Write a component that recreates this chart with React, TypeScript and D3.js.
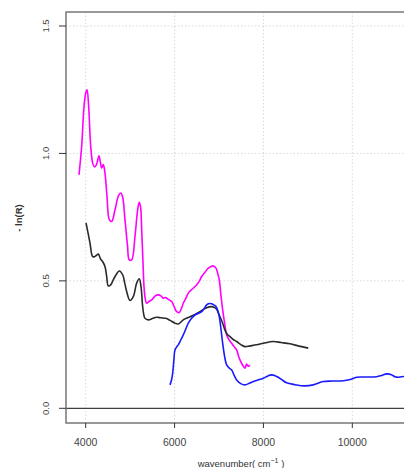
import React from "react";
import * as d3 from "d3";

const xTicks = [4000, 6000, 8000, 10000];
const yTicks = [0.0, 0.5, 1.0, 1.5];
const yTickLabels = ["0.0", "0.5", "1.0", "1.5"];

const magentaWn = [3849,3910,3960,4000,4030,4065,4112,4160,4200,4240,4299,4330,4360,4396,4434,4480,4531,4585,4660,4740,4790,4830,4884,4940,4981,5035,5109,5170,5205,5235,5260,5290,5312,5340,5372,5430,5485,5560,5634,5700,5746,5800,5850,5935,6000,6047,6106,6150,6196,6250,6309,6400,6497,6560,6610,6690,6759,6810,6857,6900,6932,6970,7006,7040,7083,7130,7172,7230,7285,7340,7397,7440,7472,7530,7584,7622,7660,7697];
const magentaVal = [0.916,1.03,1.18,1.237,1.25,1.19,1.03,0.96,0.947,0.955,0.991,0.965,0.943,0.956,0.923,0.83,0.74,0.733,0.779,0.835,0.845,0.83,0.74,0.64,0.582,0.582,0.674,0.78,0.808,0.79,0.70,0.57,0.478,0.43,0.412,0.42,0.425,0.44,0.445,0.44,0.432,0.435,0.428,0.419,0.395,0.379,0.376,0.39,0.412,0.43,0.452,0.468,0.484,0.5,0.517,0.535,0.55,0.555,0.559,0.556,0.55,0.53,0.504,0.45,0.386,0.33,0.288,0.268,0.255,0.242,0.229,0.205,0.19,0.17,0.157,0.174,0.165,0.17];

const blackWn = [4007,4050,4097,4157,4200,4240,4284,4338,4380,4434,4470,4509,4562,4610,4660,4756,4832,4880,4922,4997,5071,5147,5206,5244,5282,5310,5334,5409,5500,5597,5700,5800,5900,6000,6084,6140,6196,6290,6385,6480,6572,6650,6722,6835,6900,6947,6990,7037,7090,7134,7190,7247,7320,7397,7490,7584,7700,7847,8000,8221,8400,8597,8800,9009];
const blackVal = [0.727,0.69,0.648,0.595,0.595,0.6,0.605,0.585,0.576,0.556,0.52,0.48,0.484,0.5,0.517,0.539,0.524,0.49,0.458,0.423,0.438,0.491,0.508,0.478,0.399,0.365,0.353,0.347,0.352,0.357,0.355,0.353,0.345,0.335,0.331,0.338,0.347,0.355,0.362,0.37,0.379,0.388,0.395,0.399,0.395,0.389,0.372,0.353,0.33,0.307,0.29,0.281,0.27,0.262,0.25,0.242,0.245,0.249,0.255,0.262,0.258,0.253,0.244,0.236];

const blueWn = [5897,5930,5957,5985,6009,6045,6084,6140,6196,6250,6309,6380,6459,6530,6610,6670,6722,6780,6835,6890,6932,6970,7006,7045,7083,7130,7172,7230,7285,7340,7397,7490,7584,7680,7772,7890,7996,8100,8185,8260,8334,8430,8522,8700,8934,9121,9346,9550,9796,9950,10097,10300,10547,10660,10772,10880,10959,11030,11110,11300];
const blueVal = [0.092,0.11,0.137,0.19,0.229,0.24,0.249,0.268,0.288,0.31,0.334,0.352,0.366,0.372,0.379,0.392,0.406,0.411,0.41,0.405,0.399,0.385,0.36,0.31,0.255,0.2,0.17,0.158,0.15,0.13,0.111,0.097,0.092,0.098,0.105,0.112,0.118,0.127,0.131,0.128,0.122,0.11,0.1,0.093,0.088,0.092,0.105,0.107,0.108,0.113,0.122,0.123,0.124,0.129,0.135,0.132,0.124,0.122,0.124,0.125];

const series = [
  { wn: magentaWn, val: magentaVal, color: "#ff00ff" },
  { wn: blackWn, val: blackVal, color: "#2a2a2a" },
  { wn: blueWn, val: blueVal, color: "#1a1aff" },
];

export default function App() {
  const W = 404, H = 468;
  const boxL = 66, boxR = 416, boxT = 12, boxB = 423;
  const x = d3.scaleLinear().domain([4000, 10000]).range([85.7, 352.3]);
  const y = d3.scaleLinear().domain([0, 1.5]).range([408.3, 26]);
  const line = d3
    .line<[number, number]>()
    .x((d) => x(d[0]))
    .y((d) => y(d[1]))
    .curve(d3.curveCatmullRom.alpha(0.5));
  const font = "'Liberation Sans', Arial, Helvetica, sans-serif";
  return (
    <svg
      width={W}
      height={H}
      style={{ position: "absolute", left: 0, top: 0, background: "#fff" }}
    >
      <defs>
        <clipPath id="plotclip">
          <rect x={boxL} y={boxT} width={boxR - boxL} height={boxB - boxT} />
        </clipPath>
      </defs>
      {xTicks.map((t) => (
        <line key={"gx" + t} x1={x(t)} x2={x(t)} y1={boxT} y2={boxB} stroke="#cfcfcf" strokeWidth={0.8} strokeDasharray="1.5,2" />
      ))}
      {yTicks.filter((t) => t > 0).map((t) => (
        <line key={"gy" + t} x1={boxL} x2={boxR} y1={y(t)} y2={y(t)} stroke="#cfcfcf" strokeWidth={0.8} strokeDasharray="1.5,2" />
      ))}
      <line x1={boxL} x2={boxR} y1={y(0)} y2={y(0)} stroke="#111" strokeWidth={1} />
      <g clipPath="url(#plotclip)">
        {series.map((s, i) => (
          <path
            key={i}
            d={line(s.wn.map((w, j) => [w, s.val[j]] as [number, number])) || ""}
            fill="none"
            stroke={s.color}
            strokeWidth={1.6}
            strokeLinejoin="round"
          />
        ))}
      </g>
      <rect x={boxL} y={boxT} width={boxR - boxL} height={boxB - boxT} fill="none" stroke="#777" strokeWidth={1.5} />
      {xTicks.map((t) => (
        <g key={"xt" + t}>
          <line x1={x(t)} x2={x(t)} y1={boxB} y2={boxB + 5} stroke="#333" strokeWidth={1} />
          <text x={x(t)} y={446} textAnchor="middle" fontSize={10.5} fontFamily={font} fill="#444">
            {t}
          </text>
        </g>
      ))}
      {yTicks.map((t, i) => (
        <g key={"yt" + t}>
          <line x1={boxL - 7} x2={boxL} y1={y(t)} y2={y(t)} stroke="#333" strokeWidth={1} />
          <text
            transform={`translate(49,${y(t)}) rotate(-90)`}
            textAnchor="middle"
            fontSize={9.5}
            fontFamily={font}
            fill="#444"
          >
            {yTickLabels[i]}
          </text>
        </g>
      ))}
      <text x={241} y={467} textAnchor="middle" fontSize={9.5} fontFamily={font} fill="#333">
        wavenumber( cm
        <tspan dy={-4} fontSize={7}>−1</tspan>
        <tspan dy={4}> )</tspan>
      </text>
      <text
        transform="translate(22,218) rotate(-90)"
        textAnchor="middle"
        fontSize={9.5}
        fontWeight="bold"
        fontFamily={font}
        fill="#333"
      >
        - ln(R)
      </text>
    </svg>
  );
}
